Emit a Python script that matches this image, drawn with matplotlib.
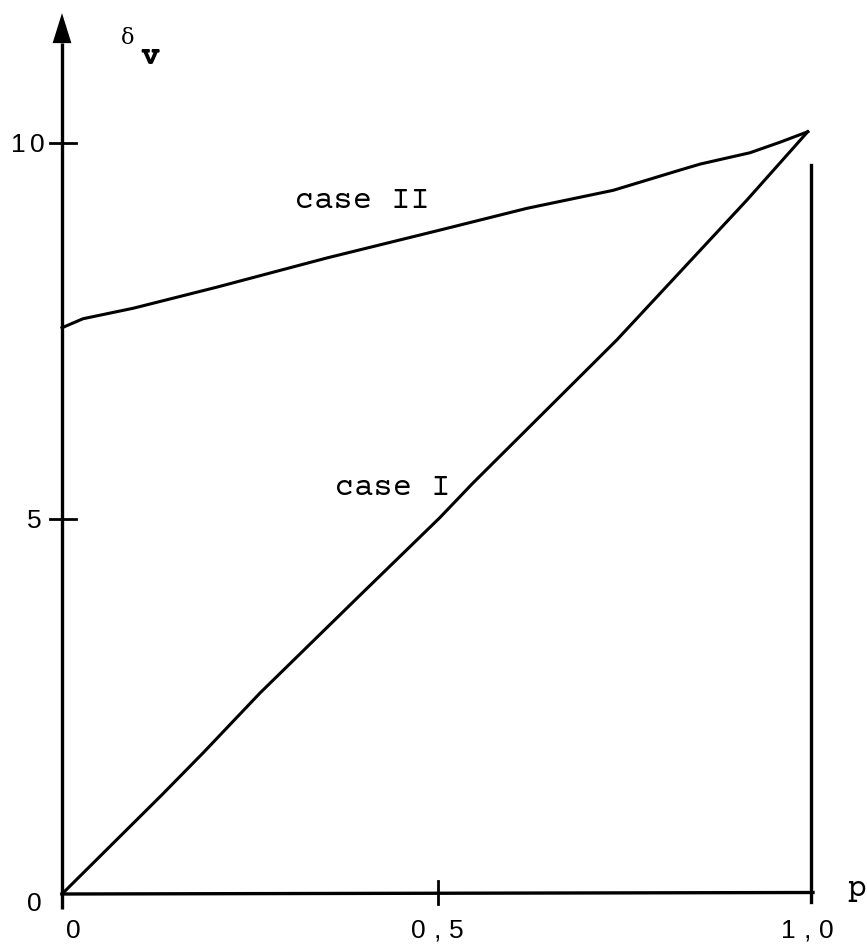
#!/usr/bin/env python3
"""Redraw the delta_v against p sketch (case I and case II)."""

import matplotlib

matplotlib.use("Agg")
import matplotlib.pyplot as plt  # type: ignore
from matplotlib.transforms import offset_copy  # type: ignore

# values
case1_p = [0.0, 0.133, 0.188, 0.264, 0.397, 0.503, 0.547, 0.739, 0.912, 0.993]
case1_d = [0.0, 1.32, 1.88, 2.68, 3.98, 5.01, 5.47, 7.38, 9.24, 10.15]

case2_p = [0.0, 0.028, 0.095, 0.206, 0.353, 0.503, 0.619, 0.734, 0.823,
           0.850, 0.916, 0.956, 0.993]
case2_d = [7.54, 7.66, 7.80, 8.08, 8.47, 8.84, 9.13, 9.37, 9.64,
           9.72, 9.87, 10.01, 10.15]

ytick_vals = [0, 5, 10]
ytick_labels = ["0", "5", "10"]
xtick_vals = [0.0, 0.5, 1.0]
xtick_labels = ["0", "0,5", "1,0"]

INK = "black"
TYPEWRITER = ["Courier Prime", "Cutive Mono", "Nimbus Mono PS", "FreeMono",
              "Liberation Mono"]
DIGITS = ["Liberation Sans", "DejaVu Sans"]
PITCH = 19  # typewriter pitch of the tick labels, in pixels


def spaced(fig, ax, x, y, label, **kw):
    """Put a label one character at a time, typewriter spaced, centred on x."""
    n = len(label)
    for i, ch in enumerate(label):
        shift = (i - (n - 1) / 2) * PITCH
        trans = offset_copy(ax.transData, fig=fig, x=shift, y=0, units="dots")
        ax.text(x, y, ch, transform=trans, ha="center", **kw)


def main():
    """Draw and save."""
    fig = plt.figure(figsize=(8.67, 9.44), dpi=100)
    ax = fig.add_axes([0, 0, 1, 1])
    # pixel scale of the original: 751 px per unit p, 75.1 px per unit delta
    ax.set_xlim(-62 / 751, 805 / 751)
    ax.set_ylim(-50 / 75.1, 894 / 75.1)
    ax.axis("off")

    # axes
    ytop = 11.33
    ax.plot([0, 0], [-0.2, ytop], color=INK, lw=2.4, solid_capstyle="butt")
    ax.fill([-0.0125, 0.0, 0.0125], [ytop, 11.73, ytop], color=INK, lw=0)
    ax.plot([0, 1.0], [0, 0.02], color=INK, lw=2.4)
    ax.plot([0.997, 0.997], [-0.1, 9.71], color=INK, lw=2.4)

    # y ticks and labels
    for val, lab in zip(ytick_vals, ytick_labels):
        if val > 0:
            ax.plot([-0.016, 0.019], [val, val], color=INK, lw=2.0)
        xpos = -0.046 if len(lab) == 2 else -0.037
        ypos = val - 0.1 if val == 0 else val
        spaced(fig, ax, xpos, ypos, lab, va="center_baseline",
               fontsize=19, family=DIGITS, color=INK)

    # x ticks and labels
    for val, lab in zip(xtick_vals, xtick_labels):
        if val == 0.5:
            ax.plot([val, val], [-0.13, 0.17], color=INK, lw=2.0)
        xpos = val + 0.015 if val == 0 else val - 0.008 if val == 1.0 else val
        spaced(fig, ax, xpos, -0.59, lab, va="baseline",
               fontsize=19, family=DIGITS, color=INK)

    # curves
    ax.plot(case1_p, case1_d, color=INK, lw=2.2, solid_joinstyle="round")
    ax.plot(case2_p, case2_d, color=INK, lw=2.2, solid_joinstyle="round")

    # labels
    ax.text(0.31, 9.23, "case II", ha="left", va="center",
            fontsize=23, family=TYPEWRITER, color=INK)
    ax.text(0.364, 5.41, "case I", ha="left", va="center",
            fontsize=23, family=TYPEWRITER, color=INK)
    ax.text(0.087, 11.4, "\u03b4", ha="center", va="center",
            fontsize=16, family=["DejaVu Serif"], color=INK)
    ax.text(0.117, 11.15, "v", ha="center", va="center",
            fontsize=23, family=TYPEWRITER, weight="bold", color=INK)
    ax.text(1.046, -0.03, "p", ha="left", va="baseline",
            fontsize=23, family=TYPEWRITER, color=INK)

    fig.savefig("out.png", dpi=100, facecolor="white")


if __name__ == "__main__":
    main()
